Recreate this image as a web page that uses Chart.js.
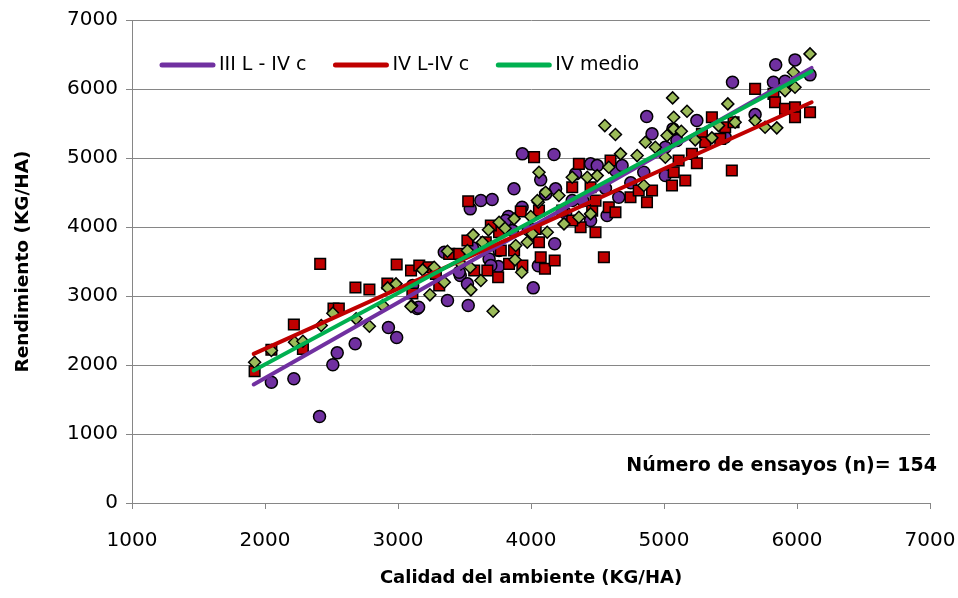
<!DOCTYPE html>
<html>
<head>
<meta charset="utf-8">
<script src="https://cdn.jsdelivr.net/npm/chart.js@4"></script>
<style>
  html, body { margin: 0; padding: 0; background: #fff; }
</style>
</head>
<body>
<canvas id="chart" width="958" height="598"></canvas>
<script>
// ----------------------
// DATA
// ----------------------
const seriesNames = ["III L - IV c", "IV L-IV c", "IV medio"];

// [calidad del ambiente, rendimiento]
const ptsIII = [
  [2048,1750],[2217,1800],[2410,1253],[2510,2003],[2543,2176],[2678,2307],[2928,2543],[2990,2398],
  [3145,2818],[3543,4263],[3623,4383],[3708,4398],[3348,3634],[3468,3297],[3522,3176],[3372,2934],
  [3528,2862],[3155,2837],[3755,3427],[4017,3118],[4178,3756],[4055,3437],[3830,4151],[3933,4286],
  [3935,5060],[4173,5050],[4073,4683],[4910,5350],[4448,4915],[4335,4770],[4185,4553],[4572,4166],
  [4660,4431],[5840,6350],[5985,6422],[6098,6205],[5515,6098],[5823,6098],[5910,6112],[5685,5629],
  [5247,5542],[5097,5253],[5460,5300],[3872,4553],[4498,4890],[4635,4818],[4848,4793],[5010,4745],
  [5067,5422],[5010,5156],[4870,5600],[4448,4094],[4310,4383],[3110,3152],[3860,3949],[3760,3659],
  [3685,3538],[3460,3344],[3560,3700],[3980,3960],[4260,4200],[4390,4380],[4750,4640],[4560,4560],
  [4110,4480],[4685,4890],[3810,4094],[3698,3441]
];

const ptsIVc = [
  [1922,1910],[2048,2220],[2217,2587],[2285,2234],[2515,2818],[2555,2818],[2680,3123],[2785,3094],
  [2920,3181],[3108,3036],[2415,3466],[2990,3456],[3528,4373],[3923,4224],[3522,3804],[3098,3369],
  [3160,3441],[3230,3417],[3310,3152],[3385,3611],[3460,3611],[3573,3369],[3672,3369],[3753,3272],
  [3773,3659],[3835,3466],[3873,3659],[3935,3441],[4060,3779],[4073,3562],[4105,3394],[4178,3514],
  [4035,3973],[3760,3924],[4023,5012],[4360,4915],[4373,3996],[4485,3924],[4548,3562],[4460,4238],
  [4585,4286],[4635,4214],[4748,4431],[4872,4359],[4910,4528],[4810,4528],[5060,4601],[5073,4793],
  [4310,4094],[5685,6002],[5823,5929],[5835,5808],[5910,5712],[5985,5735],[6098,5663],[5985,5590],
  [5360,5590],[5460,5445],[5523,5518],[5285,5350],[5423,5277],[5210,5060],[5247,4924],[5160,4673],
  [5510,4818],[5310,5228],[5110,4963],[4235,4238],[4598,4963],[4310,4576],[4448,4576],[4485,4383],
  [3698,4021],[3660,3779],[3285,3321],[4060,4238]
];

const ptsMedio = [
  [1922,2040],[2048,2210],[2222,2330],[2285,2344],[2423,2572],[2510,2750],[2685,2669],[2785,2562],
  [2885,2862],[2922,3118],[2985,3176],[3102,2862],[4055,4359],[3998,4151],[3873,4118],[3760,4069],
  [3680,3959],[3565,3886],[3805,3982],[3972,3779],[3885,3731],[4010,3901],[4122,3924],[3635,3779],
  [3372,3649],[3522,3659],[3185,3379],[3272,3417],[3543,3417],[3623,3224],[3548,3089],[3348,3199],
  [3240,3017],[3098,2847],[3715,2779],[3880,3524],[3930,3344],[4555,5470],[4635,5340],[4060,4793],
  [4310,4721],[4423,4721],[4498,4745],[4585,4866],[4673,5060],[4798,5035],[4860,5228],[4935,5156],
  [5023,5325],[5073,5422],[5010,5011],[4110,4504],[4210,4456],[4048,4383],[4360,4141],[4448,4190],
  [4848,4601],[6098,6509],[5973,6242],[5910,5977],[5985,6025],[5065,5871],[5073,5590],[5173,5677],
  [5480,5784],[5535,5518],[5410,5470],[5685,5542],[5760,5445],[5848,5437],[5360,5292],[5235,5263],
  [5130,5387],[4248,4045],[3473,3466]
];

// trend lines: first and last x, and y at those ends
const trendX = [1915, 6110];
const trendIII = [1717, 6306];
const trendIVc = [2162, 5808];
const trendMedio = [1920, 6257];

const xTicks = [1000, 2000, 3000, 4000, 5000, 6000, 7000];
const yTicks = [0, 1000, 2000, 3000, 4000, 5000, 6000, 7000];

const nota = "Número de ensayos (n)= 154";

// ----------------------
// HELPERS
// ----------------------
const toXY = arr => arr.map(p => ({ x: p[0], y: p[1] }));
const trend = ys => trendX.map((x, i) => ({ x, y: ys[i] }));

const tickFont = { family: "DejaVu Sans", size: 20 };

// note in the lower right corner
const notePlugin = {
  id: "note",
  afterDraw(chart) {
    const { ctx, chartArea } = chart;
    ctx.save();
    ctx.font = 'bold 19px "DejaVu Sans"';
    ctx.fillStyle = "#000";
    ctx.textAlign = "right";
    ctx.textBaseline = "middle";
    ctx.fillText(nota, chartArea.right + 7, chartArea.bottom - 37);
    ctx.restore();
  }
};

// legend of the trend lines, one row inside the plot
const lineLegend = {
  id: "lineLegend",
  afterDraw(chart) {
    const { ctx, chartArea } = chart;
    let x = chartArea.left + 28;
    const y = chartArea.top + 45;
    ctx.save();
    ctx.font = '19px "DejaVu Sans"';
    ctx.textBaseline = "middle";
    chart.data.datasets.forEach(ds => {
      if (!ds.showLine) return;
      ctx.strokeStyle = ds.borderColor;
      ctx.lineWidth = 5;
      ctx.lineCap = "round";
      ctx.beginPath();
      ctx.moveTo(x + 2, y);
      ctx.lineTo(x + 53, y);
      ctx.stroke();
      x += 59;
      ctx.fillStyle = "#000";
      ctx.fillText(ds.label, x, y);
      x += ctx.measureText(ds.label).width + 27;
    });
    ctx.restore();
  }
};

// ----------------------
// CHART
// ----------------------
new Chart(document.getElementById("chart"), {
  type: "scatter",
  data: {
    datasets: [
      {
        label: seriesNames[0] + " pts", data: toXY(ptsIII),
        pointStyle: "circle", pointRadius: 6, pointHoverRadius: 6,
        backgroundColor: "#7030a0", borderColor: "#000", borderWidth: 1.5, order: 6
      },
      {
        label: seriesNames[1] + " pts", data: toXY(ptsIVc),
        pointStyle: "rect", pointRadius: 7.5, pointHoverRadius: 7.5,
        backgroundColor: "#c00000", borderColor: "#000", borderWidth: 1.5, order: 5
      },
      {
        label: seriesNames[2] + " pts", data: toXY(ptsMedio),
        pointStyle: "rectRot", pointRadius: 6, pointHoverRadius: 6,
        backgroundColor: "#9bbb59", borderColor: "#000", borderWidth: 1.5, order: 4
      },
      {
        label: seriesNames[0], data: trend(trendIII), showLine: true, pointRadius: 0,
        borderColor: "#7030a0", backgroundColor: "#7030a0", borderWidth: 4,
        borderCapStyle: "round", order: 3
      },
      {
        label: seriesNames[1], data: trend(trendIVc), showLine: true, pointRadius: 0,
        borderColor: "#c00000", backgroundColor: "#c00000", borderWidth: 4,
        borderCapStyle: "round", order: 2
      },
      {
        label: seriesNames[2], data: trend(trendMedio), showLine: true, pointRadius: 0,
        borderColor: "#00b050", backgroundColor: "#00b050", borderWidth: 4,
        borderCapStyle: "round", order: 1
      }
    ]
  },
  options: {
    responsive: false,
    animation: false,
    layout: { padding: { top: 20, right: 28, left: 0, bottom: 0 } },
    plugins: {
      tooltip: { enabled: false },
      legend: { display: false }
    },
    scales: {
      x: {
        type: "linear",
        min: xTicks[0],
        max: xTicks[xTicks.length - 1],
        afterBuildTicks: s => { s.ticks = xTicks.map(v => ({ value: v })); },
        ticks: { callback: v => v, color: "#000", font: tickFont, padding: 20 },
        grid: { drawOnChartArea: false, tickLength: 6, color: "#868686" },
        border: { color: "#868686" },
        title: {
          display: true, text: "Calidad del ambiente (KG/HA)",
          color: "#000", font: { family: "DejaVu Sans", size: 18, weight: "bold" },
          padding: { top: 0, bottom: 9 }
        },
        afterFit: s => {
          s.height = 95;
          s.paddingLeft = 0;
          s.paddingRight = 0;
        }
      },
      y: {
        min: yTicks[0],
        max: yTicks[yTicks.length - 1],
        afterBuildTicks: s => { s.ticks = yTicks.map(v => ({ value: v })); },
        ticks: { callback: v => v, color: "#000", font: tickFont, padding: 8 },
        grid: { color: "#868686", tickLength: 6 },
        border: { color: "#868686" },
        title: {
          display: true, text: "Rendimiento (KG/HA)",
          color: "#000", font: { family: "DejaVu Sans", size: 18.5, weight: "bold" },
          padding: { top: 12, bottom: 0 }
        },
        afterFit: s => { s.width = 132; }
      }
    }
  },
  plugins: [notePlugin, lineLegend]
});
</script>
</body>
</html>
